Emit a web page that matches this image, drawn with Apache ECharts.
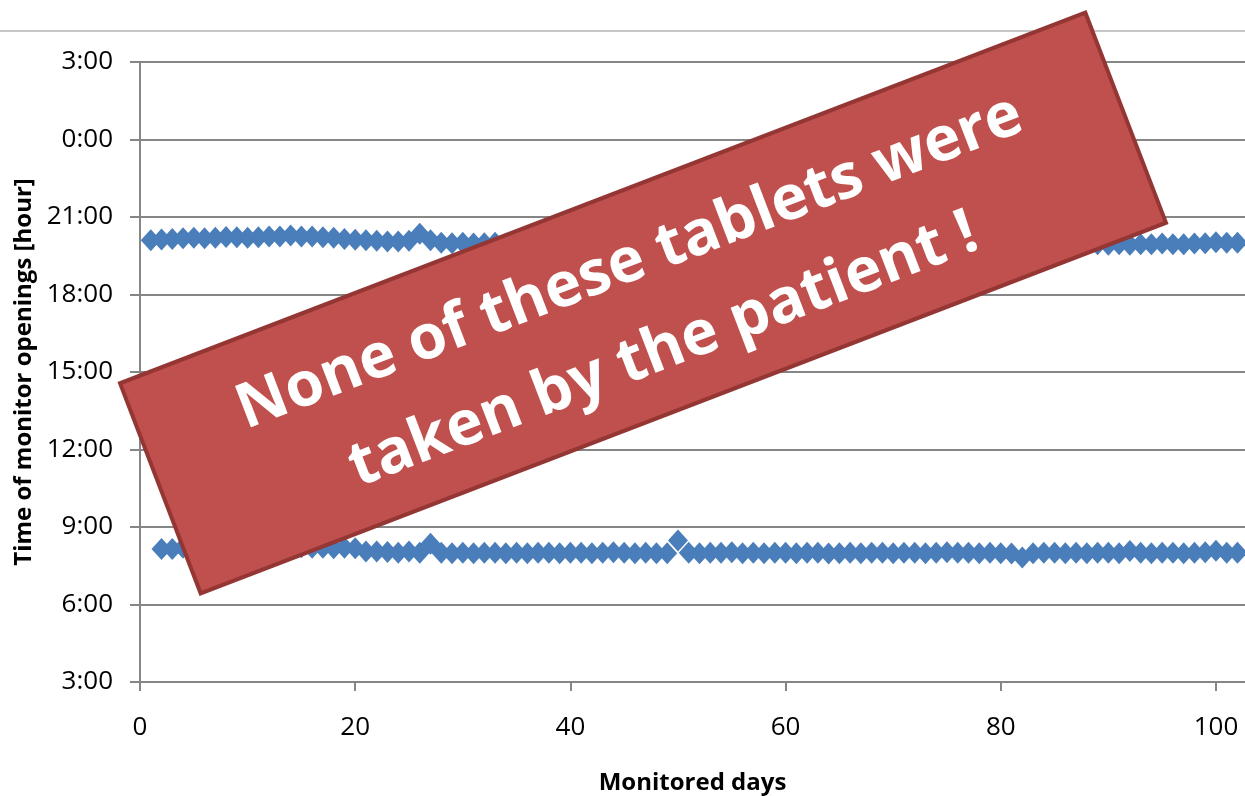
<!DOCTYPE html>
<html>
<head>
<meta charset="utf-8">
<script src="https://cdn.jsdelivr.net/npm/echarts@6/dist/echarts.min.js"></script>
<style>
  html, body { margin: 0; padding: 0; background: #fff; }
  #chart { width: 1245px; height: 796px; }
</style>
</head>
<body>
<div id="chart"></div>
<script>
// ---- data (hours of the day; values >= 24 wrap past midnight) ----
const eveningDays = [];
for (let d = 1; d <= 102; d++) eveningDays.push(d);
const eveningTimes = [
  20.10, 20.13, 20.15, 20.18, 20.20, 20.18, 20.20, 20.23, 20.22, 20.20,
  20.22, 20.25, 20.25, 20.28, 20.25, 20.25, 20.22, 20.20, 20.15, 20.12,
  20.10, 20.08, 20.05, 20.05, 20.08, 20.35, 20.10, 20.00, 19.98, 20.00,
  19.97, 19.98, 20.00, 19.97, 19.95, 19.98, 20.00, 19.97, 19.95, 19.98,
  20.00, 19.97, 19.95, 19.98, 20.00, 19.95, 19.97, 20.00, 19.98, 19.95,
  19.97, 20.00, 19.98, 19.95, 19.97, 20.00, 19.98, 19.95, 19.97, 20.00,
  19.98, 19.95, 19.97, 20.00, 19.98, 19.95, 19.97, 20.00, 19.98, 19.95,
  19.97, 20.00, 19.98, 19.95, 19.97, 20.00, 19.98, 19.95, 19.97, 20.00,
  19.98, 19.95, 19.97, 20.00, 19.98, 19.95, 19.97, 19.98, 19.95, 19.93,
  19.95, 19.93, 19.95, 19.95, 19.97, 19.95, 19.95, 19.97, 19.98, 20.02,
  20.00, 20.00
];
const morningDays = [];
for (let d = 2; d <= 102; d++) morningDays.push(d);
const morningTimes = [
  8.15, 8.15, 8.20, 8.20, 8.22, 8.20, 8.25, 8.20, 8.22,
  8.20, 8.25, 8.20, 8.20, 8.22, 8.20, 8.20, 8.18, 8.20, 8.18,
  8.05, 8.05, 8.03, 8.00, 8.05, 8.00, 8.35, 8.00, 7.98, 8.00,
  7.98, 8.00, 8.00, 7.98, 8.00, 7.98, 8.00, 8.00, 7.98, 8.00,
  8.00, 7.98, 8.00, 8.02, 8.00, 7.98, 8.00, 7.98, 7.98, 8.48,
  8.00, 7.98, 8.00, 8.00, 8.02, 7.98, 8.00, 7.98, 8.00, 8.00,
  7.98, 8.00, 8.00, 7.97, 7.98, 8.00, 7.98, 8.00, 8.00, 7.98,
  8.00, 8.00, 7.98, 8.00, 8.02, 8.00, 8.00, 7.98, 8.00, 7.98,
  7.97, 7.82, 7.98, 8.00, 8.00, 7.98, 8.00, 7.98, 8.00, 8.00,
  7.98, 8.07, 8.00, 7.98, 8.00, 8.00, 7.98, 8.00, 8.02, 8.08,
  8.00, 8.00
];
const yTicks = [3, 6, 9, 12, 15, 18, 21, 24, 27];
const yTickLabels = ['3:00', '6:00', '9:00', '12:00', '15:00', '18:00', '21:00', '0:00', '3:00'];
const xTicks = [0, 20, 40, 60, 80, 100];
const xTickLabels = ['0', '20', '40', '60', '80', '100'];
const xAxisTitle = 'Monitored days';
const yAxisTitle = 'Time of monitor openings [hour]';
const bannerLines = ['None of these tablets were', 'taken by the patient !'];

const FONT = '"Open Sans", "Noto Sans", sans-serif';
const AXIS_GRAY = '#868686';
const BLUE = '#4A7EBB';

const chart = echarts.init(document.getElementById('chart'), null, { renderer: 'canvas' });

const option = {
  animation: false,
  backgroundColor: '#ffffff',
  grid: { left: 140, right: 0, top: 62, bottom: 114, containLabel: false, outerBoundsMode: 'none' },
  xAxis: {
    type: 'value',
    min: 0, max: 102.7,
    interval: 20,
    name: xAxisTitle,
    nameLocation: 'middle',
    nameGap: 89,
    nameTextStyle: { fontFamily: FONT, fontWeight: 'bold', fontSize: 24, color: '#000' },
    axisLine: { show: true, onZero: false, lineStyle: { color: AXIS_GRAY, width: 2 } },
    axisTick: { show: true, length: 9, inside: false, customValues: xTicks, lineStyle: { color: AXIS_GRAY, width: 2 } },
    axisLabel: {
      customValues: xTicks,
      margin: 33,
      fontFamily: FONT, fontSize: 26, color: '#000',
      formatter: v => xTickLabels[xTicks.indexOf(v)] ?? ''
    },
    splitLine: { show: false }
  },
  yAxis: {
    type: 'value',
    min: 3, max: 27,
    interval: 3,
    name: yAxisTitle,
    nameLocation: 'middle',
    nameGap: 104,
    nameRotate: 90,
    nameTextStyle: { fontFamily: FONT, fontWeight: 'bold', fontSize: 24, color: '#000' },
    axisLine: { show: true, lineStyle: { color: AXIS_GRAY, width: 2 } },
    axisTick: { show: true, length: 10, inside: false, lineStyle: { color: AXIS_GRAY, width: 2 } },
    axisLabel: {
      margin: 27,
      fontFamily: FONT, fontSize: 26, color: '#000',
      formatter: v => yTickLabels[yTicks.indexOf(v)] ?? ''
    },
    splitLine: { show: true, lineStyle: { color: AXIS_GRAY, width: 2 } }
  },
  series: [
    {
      name: 'Evening',
      type: 'scatter',
      symbol: 'diamond',
      symbolSize: [20, 22],
      itemStyle: { color: BLUE, opacity: 1 },
      data: eveningDays.map((d, i) => [d, eveningTimes[i]])
    },
    {
      name: 'Morning',
      type: 'scatter',
      symbol: 'diamond',
      symbolSize: [20, 22],
      itemStyle: { color: BLUE, opacity: 1 },
      data: morningDays.map((d, i) => [d, morningTimes[i]])
    }
  ],
  graphic: [
    {
      type: 'line',
      z: 50,
      shape: { x1: 0, y1: 31, x2: 1245, y2: 31 },
      style: { stroke: '#C8C8C8', lineWidth: 2 }
    },
    {
      type: 'group',
      x: 643, y: 303,
      rotation: 21 * Math.PI / 180,
      z: 100,
      children: [
        {
          type: 'rect',
          z: 100,
          shape: { x: -517, y: -112.5, width: 1034, height: 225 },
          style: { fill: '#C0504D', stroke: '#943634', lineWidth: 4 }
        },
        {
          type: 'text',
          z: 101,
          x: 2, y: -42,
          style: {
            text: bannerLines[0],
            fill: '#ffffff',
            font: 'bold 62px ' + FONT,
            textAlign: 'center',
            textVerticalAlign: 'middle'
          }
        },
        {
          type: 'text',
          z: 101,
          x: 2, y: 52,
          style: {
            text: bannerLines[1],
            fill: '#ffffff',
            font: 'bold 62px ' + FONT,
            textAlign: 'center',
            textVerticalAlign: 'middle'
          }
        }
      ]
    }
  ]
};

chart.setOption(option);
</script>
</body>
</html>
